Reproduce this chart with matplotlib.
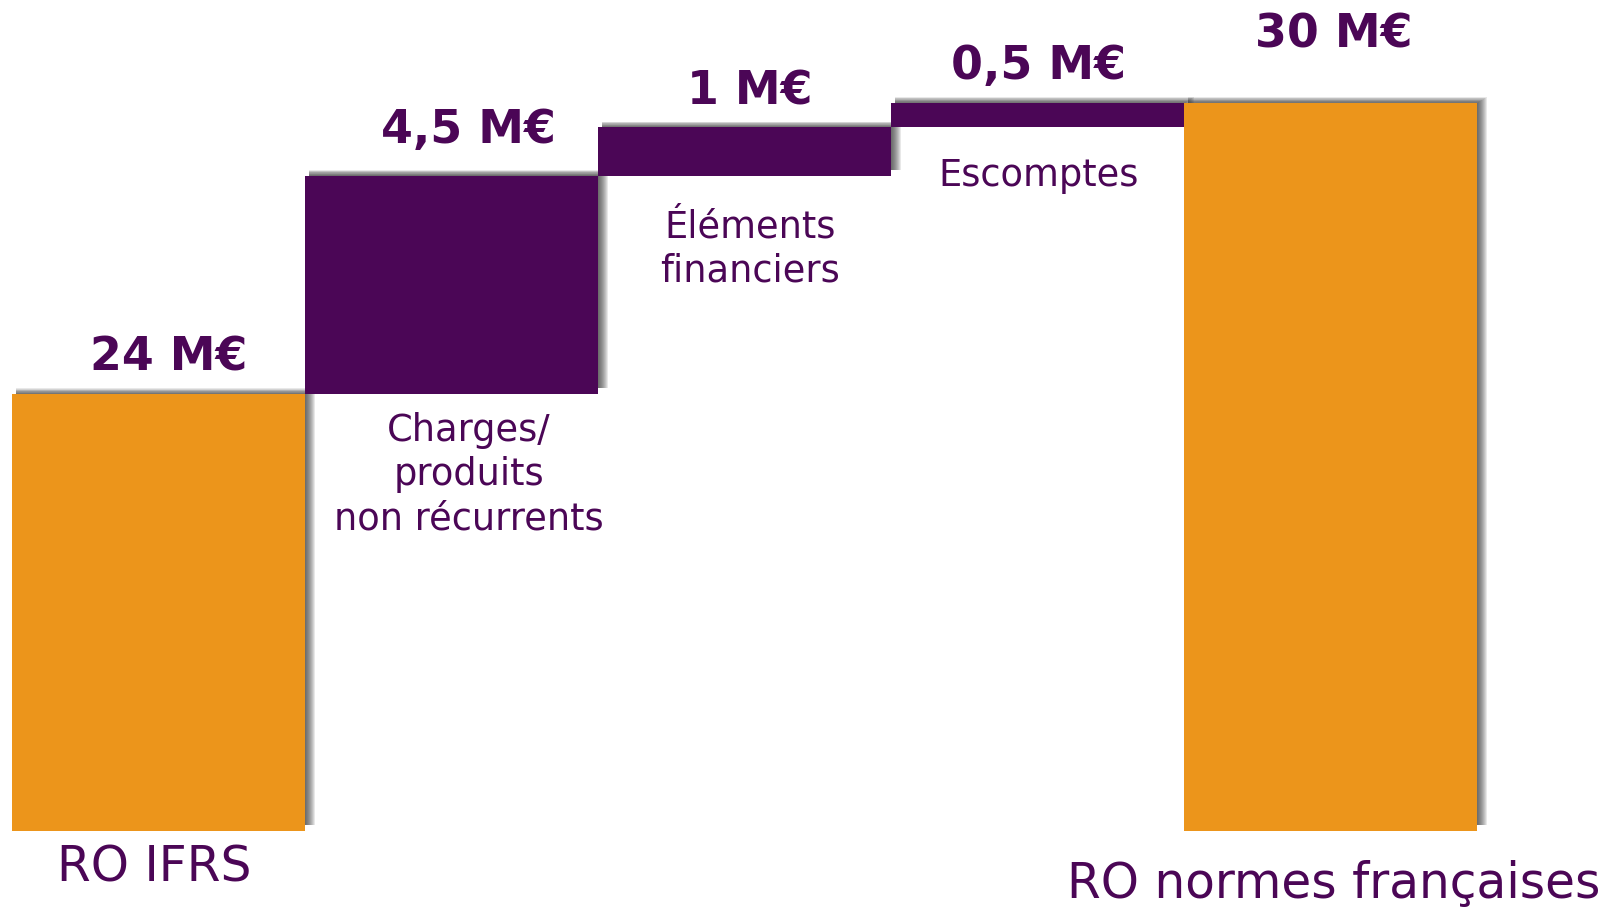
import numpy as np
import matplotlib.pyplot as plt
from matplotlib.patches import Rectangle

#------donnees du pont RO IFRS -> RO normes francaises
categories = ['RO IFRS', 'Charges/\nproduits\nnon récurrents', 'Éléments\nfinanciers',
              'Escomptes', 'RO normes françaises']
values = [24, 4.5, 1, 0.5, 30]
value_labels = ['24 M€', '4,5 M€', '1 M€', '0,5 M€', '30 M€']
is_total = [True, False, False, False, True]

#------style
orange = '#EC951B'
purple = '#4B0656'
axis_start = 15  # l'axe ne part pas de zero
value_gap = [24, 33, 23, 24, 55]        # px au-dessus de la barre
label_gap = [51, 135, 106, 59, 67]      # px sous la barre (derniere ligne)
value_shift = [10, 17, 5, 1, 3]         # petits decalages horizontaux (px)
label_shift = [-4, 17, 5, 1, 3]
label_size = [35, 26.5, 26.5, 26.5, 35]

#------calcul du waterfall
bottoms, tops = [], []
running = 0
for v, tot in zip(values, is_total):
    if tot:
        bottoms.append(axis_start)
        tops.append(v)
        running = v
    else:
        bottoms.append(running)
        running += v
        tops.append(running)
bottoms = np.array(bottoms)
tops = np.array(tops)
x = np.arange(len(values))

W, H = 1604, 907
fig = plt.figure(figsize=(W / 100, H / 100), dpi=100)
ax = fig.add_axes([0, 0, 1, 1])
xlim = (-0.541, 4.933)
ylim = (13.43, 32.12)
ax.set_xlim(xlim)
ax.set_ylim(ylim)
ax.axis('off')
px = (xlim[1] - xlim[0]) / W
py = (ylim[1] - ylim[0]) / H

#------ombres portees (haut / droite), flou simule par empilement
for i in range(len(values)):
    left, right = x[i] - 0.5, x[i] + 0.5
    for s in range(-5, 7):
        x0 = left + 4 * px
        x1 = right + (4 + s) * px
        y0 = bottoms[i] + 6 * py
        y1 = tops[i] + (2 + s * 0.6) * py
        ax.add_patch(Rectangle((x0, y0), x1 - x0, y1 - y0, color='#303030',
                               alpha=0.11, lw=0, zorder=1))

colors = [orange if t else purple for t in is_total]
ax.bar(x, tops - bottoms, bottom=bottoms, width=1.0, color=colors, zorder=2)

for i in range(len(values)):
    ax.annotate(value_labels[i], xy=(x[i], tops[i]),
                xytext=(value_shift[i] * 0.72, value_gap[i] * 0.72),
                textcoords='offset points', ha='center', va='baseline',
                fontsize=33, fontweight='bold', color=purple, zorder=3)
    ax.annotate(categories[i], xy=(x[i], bottoms[i] if not is_total[i] else axis_start),
                xytext=(label_shift[i] * 0.72, -label_gap[i] * 0.72), textcoords='offset points',
                ha='center', va='baseline', fontsize=label_size[i], color=purple,
                linespacing=1.25, multialignment='center', zorder=3)

plt.savefig('out.png', dpi=100)
